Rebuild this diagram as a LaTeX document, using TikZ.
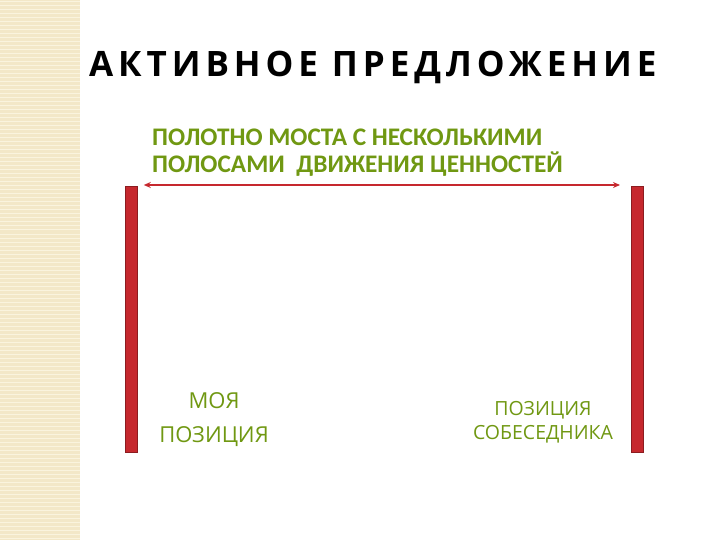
\documentclass[tikz,border=0pt]{standalone}
\usepackage{fontspec}
\setmainfont{Open Sans}
\newfontfamily\calfont{Carlito}
\newfontfamily\titlefont[LetterSpace=14]{Open Sans}
\usepackage{tikz}
\usetikzlibrary{shapes, arrows.meta, positioning}
\definecolor{olivetext}{RGB}{112,152,18}
\definecolor{olivedark}{RGB}{80,112,10}
\definecolor{barred}{RGB}{198,40,46}
\definecolor{bardark}{RGB}{140,28,32}
\definecolor{stripbg}{RGB}{243,232,200}
\definecolor{stripln}{RGB}{250,244,222}

\begin{document}
\begin{tikzpicture}
  [
    x=1pt, y=-1pt,
    Title/.style={anchor=base west, inner sep=0pt, font=\titlefont\bfseries\fontsize{35}{40}\selectfont},
    Green/.style={text=olivetext, inner sep=0pt, font=\calfont\bfseries\fontsize{25.3}{27}\selectfont},
    Pos/.style={text=olivetext, inner sep=0pt, align=center},
    Bar/.style={rectangle, draw=bardark, fill=barred, line width=0.8pt, minimum width=12pt, minimum height=266pt, inner sep=0pt}
  ]
  \useasboundingbox (0,0) rectangle (720,540);
  \fill[white] (0,0) rectangle (720,540);
  % Strip
  \fill[stripbg] (0,0) rectangle (80,540);
  \foreach \y in {2,6,...,538}
    \draw[stripln, line width=1pt] (0,\y) -- (80,\y);
  % Nodes
  \node[Title] (title) at (89,77) {АКТИВНОЕ ПРЕДЛОЖЕНИЕ};
  \node[Green, anchor=base west, align=left] (bridge) at (152,173)
    {ПОЛОТНО МОСТА С НЕСКОЛЬКИМИ\\ПОЛОСАМИ\ \ ДВИЖЕНИЯ ЦЕННОСТЕЙ};
  \node[Bar, anchor=north west] (lbar) at (125,186) {};
  \node[Bar, anchor=north west] (rbar) at (631,186) {};
  \node[Pos, anchor=base, font=\fontsize{22}{34}\selectfont] (mine) at (214,442) {МОЯ\\ПОЗИЦИЯ};
  \node[Pos, anchor=base, font=\fontsize{19.5}{24}\selectfont] (theirs) at (543,439) {ПОЗИЦИЯ\\СОБЕСЕДНИКА};
  % Lines
  \path [{Stealth[length=7pt,width=6pt]}-{Stealth[length=7pt,width=6pt]}, draw, barred, line width=1.3pt,
    shorten <=6pt, shorten >=11pt] ([yshift=1pt]lbar.north east) -- ([yshift=1pt]rbar.north west);
\end{tikzpicture}
\end{document}
